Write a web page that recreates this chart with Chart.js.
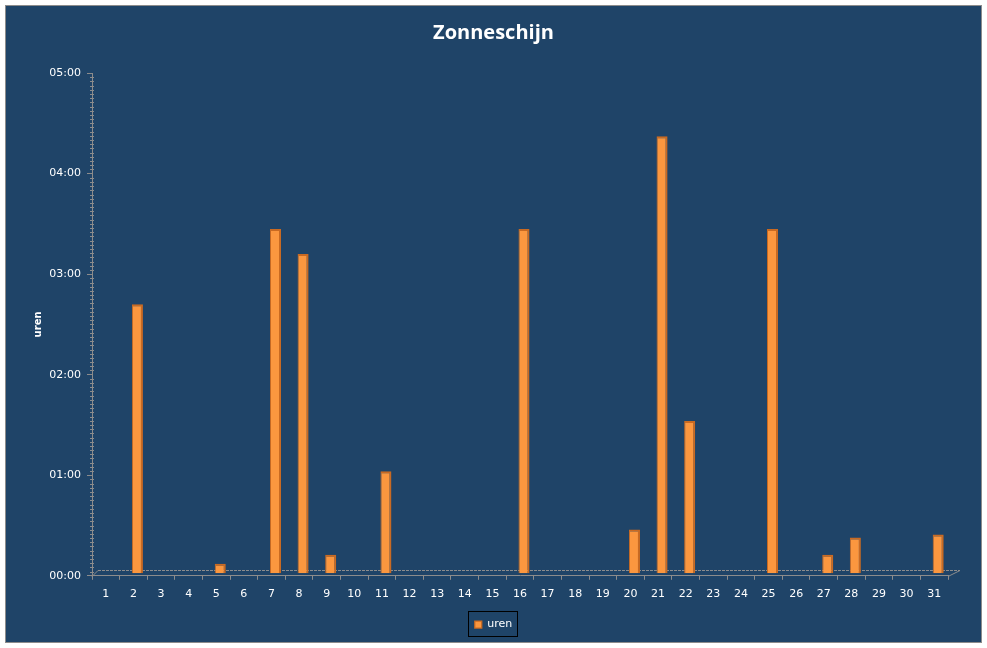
<!DOCTYPE html>
<html>
<head>
<meta charset="utf-8">
<title>Zonneschijn</title>
<script src="https://cdn.jsdelivr.net/npm/chart.js@4/dist/chart.umd.min.js"></script>
<style>
  html, body { margin: 0; padding: 0; background: #fff; }
  #kader {
    position: absolute; left: 5px; top: 5px;
    width: 975px; height: 636px;
    background: #1f4468;
    border: 1px solid #8c8c8c;
  }
  canvas { display: block; }
</style>
</head>
<body>
<div id="kader"><canvas id="grafiek" width="975" height="636"></canvas></div>
<script>
// dagen van de maand
const dagen = ["1","2","3","4","5","6","7","8","9","10","11","12","13","14","15","16",
               "17","18","19","20","21","22","23","24","25","26","27","28","29","30","31"];
const uren = [0, 2.68, 0, 0, 0.10, 0, 3.43, 3.18, 0.19, 0, 1.02, 0, 0, 0, 0, 3.43,
              0, 0, 0, 0.44, 4.35, 1.52, 0, 0, 3.43, 0, 0.19, 0.36, 0, 0, 0.39];
const urenTicks = [0, 1, 2, 3, 4, 5];

const grijs = "#8c8c8c";

function tijdLabel(v) {
    return "0" + v + ":00";
}

// kleine streepjes op de y-as, 3D vloer en kader om de legenda
const asDetails = {
    id: "asDetails",
    beforeDatasetsDraw(chart) {
        const ctx = chart.ctx;
        const x = chart.scales.x;
        const ca = chart.chartArea;
        // vloer achter de staven
        ctx.save();
        ctx.strokeStyle = grijs;
        ctx.lineWidth = 1;
        const b = Math.round(ca.bottom) + 0.5;
        const l = Math.round(x.left), r = Math.round(x.right);
        ctx.beginPath();
        ctx.moveTo(l, b);
        ctx.lineTo(l + 6, b - 6);
        ctx.moveTo(r, b);
        ctx.lineTo(r + 12, b - 6);
        ctx.stroke();
        ctx.setLineDash([3, 1]);
        ctx.beginPath();
        ctx.moveTo(l + 6, b - 6);
        ctx.lineTo(r + 12, b - 6);
        ctx.stroke();
        ctx.restore();
        // staven iets naar achteren, zoals in de 3D weergave
        ctx.save();
        ctx.translate(4, -2);
    },
    afterDatasetsDraw(chart) {
        chart.ctx.restore();
    },
    afterDraw(chart) {
        const ctx = chart.ctx;
        const y = chart.scales.y;
        const ca = chart.chartArea;
        ctx.save();
        ctx.strokeStyle = grijs;
        ctx.lineWidth = 1;
        for (let i = 1; i < 5 * 24; i++) {
            if (i % 24 === 0) continue;
            const py = Math.round(y.getPixelForValue(i / 24)) + 0.5;
            ctx.beginPath();
            ctx.moveTo(ca.left - 2, py);
            ctx.lineTo(ca.left + 2, py);
            ctx.stroke();
        }
        const boxes = chart.legend && chart.legend.legendHitBoxes;
        if (boxes && boxes.length) {
            const h = boxes[0];
            ctx.strokeStyle = "#000";
            ctx.strokeRect(Math.round(h.left) - 6.5, Math.round(h.top) - 7.5, Math.round(h.width) + 12, Math.round(h.height) + 14);
        }
        ctx.restore();
    }
};

new Chart(document.getElementById("grafiek"), {
    type: "bar",
    data: {
        labels: dagen,
        datasets: [{
            label: "uren",
            data: uren,
            backgroundColor: "#fb973f",
            borderColor: "#c96a22",
            borderWidth: { left: 1, right: 2, top: 2, bottom: 0 },
            borderSkipped: "bottom",
            barPercentage: 0.4,
            categoryPercentage: 1
        }]
    },
    options: {
        responsive: false,
        animation: false,
        devicePixelRatio: 1,
        layout: { padding: { top: 9, right: 0, left: 0, bottom: 2 } },
        plugins: {
            title: {
                display: true,
                text: "Zonneschijn",
                color: "#ffffff",
                font: { family: "Open Sans", size: 20, weight: "bold" },
                padding: { top: 6, bottom: 28 }
            },
            legend: {
                position: "bottom",
                labels: {
                    color: "#ffffff",
                    font: { family: "DejaVu Sans", size: 11 },
                    boxWidth: 7,
                    boxHeight: 7,
                    padding: 8
                }
            },
            tooltip: { enabled: false }
        },
        scales: {
            x: {
                afterFit(scale) { scale.height += 2; },
                grid: { display: true, drawOnChartArea: false, drawTicks: true, tickLength: 4, color: grijs, offset: true },
                border: { display: true, color: grijs },
                ticks: { color: "#ffffff", font: { family: "DejaVu Sans", size: 11 }, padding: 8, maxRotation: 0, autoSkip: false }
            },
            y: {
                min: 0,
                max: 5,
                afterBuildTicks(scale) {
                    scale.ticks = urenTicks.map(v => ({ value: v }));
                },
                afterFit(scale) { scale.width = 86; },
                grid: { display: true, drawOnChartArea: false, drawTicks: true, tickLength: 5, color: grijs },
                border: { display: true, color: grijs },
                ticks: { color: "#ffffff", font: { family: "DejaVu Sans", size: 11 }, padding: 6, callback: v => tijdLabel(v) },
                title: {
                    display: true,
                    text: "uren",
                    color: "#ffffff",
                    font: { family: "DejaVu Sans", size: 10, weight: "bold" },
                    padding: { top: 26, bottom: 0 }
                }
            },
            // lege as rechts, houdt ruimte vrij voor de 3D vloer
            rechts: {
                position: "right",
                min: 0,
                max: 5,
                afterFit(scale) { scale.width = 33; },
                grid: { display: false },
                border: { display: false },
                ticks: { display: false }
            }
        }
    },
    plugins: [asDetails]
});
</script>
</body>
</html>
